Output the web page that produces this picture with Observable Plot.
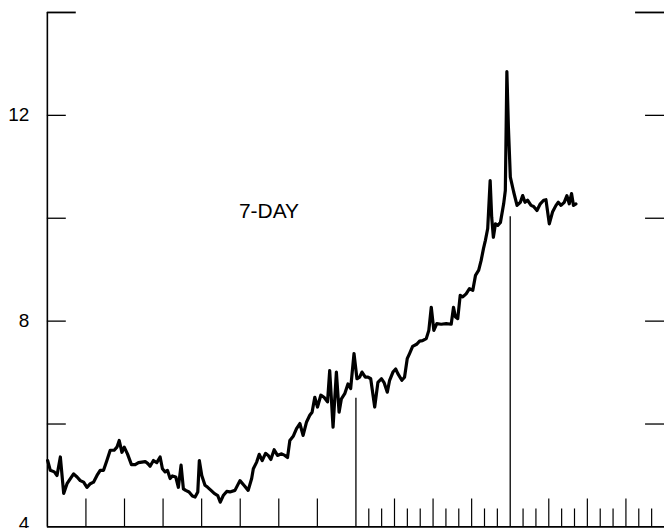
<!DOCTYPE html>
<html>
<head>
<meta charset="utf-8">
<script src="https://cdn.jsdelivr.net/npm/d3@7"></script>
<script src="https://cdn.jsdelivr.net/npm/@observablehq/plot@0.6"></script>
<style>
  html, body { margin: 0; padding: 0; background: #fff; overflow: hidden; }
</style>
</head>
<body>
<div id="chart"></div>
<script>
// Months since start of the series
const months = [0.02,0.23,0.54,0.75,1.01,1.27,1.53,1.79,2.04,2.31,2.56,2.82,3.08,3.34,3.59,3.86,4.11,4.37,4.63,4.89,
5.20,5.41,5.59,5.80,5.98,6.23,6.54,6.83,7.09,7.35,7.61,7.82,7.99,8.25,8.51,8.77,8.95,9.16,9.34,9.55,
9.72,9.99,10.19,10.40,10.58,10.76,11.02,11.28,11.49,11.70,11.82,12.01,12.26,12.47,12.73,12.98,13.25,13.45,13.68,13.95,
14.20,14.59,14.98,15.29,15.62,15.89,16.02,16.28,16.48,16.71,16.97,17.18,17.38,17.64,17.90,18.22,18.47,18.68,18.86,19.12,
19.38,19.64,19.89,20.16,20.41,20.59,20.80,21.01,21.27,21.52,21.79,21.96,22.22,22.48,22.69,22.87,23.13,23.38,23.59,23.85,
24.08,24.29,24.47,24.73,24.94,25.15,25.46,25.71,25.98,26.18,26.44,26.62,26.88,27.09,27.26,27.57,27.78,27.99,28.17,28.41,
28.72,28.95,29.18,29.47,29.67,29.86,30.06,30.29,30.63,31.02,31.41,31.59,31.74,31.92,32.11,32.31,32.57,32.83,33.09,33.30,
33.55,33.74,33.92,34.07,34.25,34.44,34.56,34.69,34.85,35.03,35.24,35.49,35.62,35.74,35.86,36.01,36.27,36.53,36.79,36.97,
37.15,37.35,37.62,37.82,38.08,38.34,38.60,38.78,39.04,39.29,39.56,39.74,39.95,40.20,40.41,40.59,40.77,40.92,41.11];

// 7-day yield (percent)
const yield7 = [5.29,5.10,5.07,5.00,5.36,4.65,4.84,4.94,5.03,4.97,4.90,4.87,4.77,4.84,4.87,5.00,5.10,5.10,5.29,5.49,
5.49,5.55,5.68,5.45,5.55,5.42,5.21,5.21,5.25,5.26,5.27,5.23,5.18,5.29,5.25,5.36,5.13,5.07,5.10,4.94,
4.99,4.97,4.77,5.20,4.74,4.71,4.68,4.60,4.58,4.68,5.29,5.00,4.81,4.77,4.71,4.65,4.61,4.48,4.61,4.69,
4.68,4.71,4.90,4.81,4.71,4.94,5.13,5.26,5.41,5.29,5.43,5.39,5.31,5.50,5.39,5.42,5.39,5.35,5.68,5.76,
5.91,6.01,5.78,6.04,6.17,6.23,6.52,6.33,6.56,6.52,6.43,7.04,5.94,7.01,6.23,6.49,6.59,6.78,6.69,7.37,
6.88,6.91,7.01,6.91,6.91,6.88,6.33,6.81,6.88,6.81,6.62,6.85,7.01,7.07,6.98,6.85,6.91,7.27,7.37,7.51,
7.55,7.61,7.62,7.66,7.82,8.27,7.82,7.95,7.94,7.95,7.94,8.27,8.08,8.05,8.50,8.47,8.53,8.63,8.60,8.89,
8.99,9.18,9.41,9.57,9.80,10.73,10.02,9.63,9.89,9.86,9.92,10.28,10.54,12.85,11.77,10.80,10.51,10.25,10.31,10.44,
10.31,10.35,10.25,10.23,10.15,10.28,10.35,10.36,9.89,10.12,10.25,10.31,10.25,10.31,10.44,10.28,10.48,10.25,10.28];

// Axis ticks
const yTicks = [6, 8, 10, 12];
const yTopTick = [14];
const yLabels = [8, 12];
const yBottomLabel = [4];
const quarterTicks = [3, 6, 9, 12, 15, 18, 21, 27, 30, 33, 39, 42, 45];
const monthTicks = [25, 26, 28, 29, 31, 32, 34, 35, 37, 38, 40, 41, 43, 44, 46, 47];
const markerMonths = [24, 36];
const markerTops = [6.5, 10.03];
const seriesLabel = "7-DAY";

const series = months.map((m, i) => ({m, v: yield7[i]}));
const markers = markerMonths.map((m, i) => ({m, top: markerTops[i]}));

const chart = Plot.plot({
  width: 666,
  height: 530,
  marginLeft: 47,
  marginRight: 0,
  marginTop: 12,
  marginBottom: 2,
  style: {fontFamily: "'Liberation Sans', Arial, sans-serif", fontSize: "19px", background: "white", color: "black"},
  x: {domain: [0, 48], axis: null},
  y: {domain: [4, 14], axis: null},
  marks: [
    // frame lines
    Plot.ruleX([0], {x: d => d, y1: 4, y2: 14, stroke: "black", strokeWidth: 1.6}),
    Plot.ruleY([4], {y: d => d, x1: 0, x2: 48, stroke: "black", strokeWidth: 1.6}),
    // left y ticks
    Plot.ruleY(yTicks, {y: d => d, x1: 0, x2: 0, insetRight: -19, stroke: "black", strokeWidth: 1.3}),
    Plot.ruleY(yTopTick, {y: d => d, x1: 0, x2: 0, insetRight: -29, stroke: "black", strokeWidth: 1.8}),
    // right y ticks
    Plot.ruleY(yTicks, {y: d => d, x1: 48, x2: 48, insetLeft: -19, stroke: "black", strokeWidth: 1.3}),
    Plot.ruleY(yTopTick, {y: d => d, x1: 48, x2: 48, insetLeft: -29, stroke: "black", strokeWidth: 1.8}),
    // y labels
    Plot.text(yLabels, {x: 0, y: d => d, text: d => String(d), textAnchor: "end", dx: -18, fill: "black", fontSize: 19}),
    Plot.text(yBottomLabel, {x: 0, y: d => d, text: d => String(d), textAnchor: "end", dx: -18, dy: -3, fill: "black", fontSize: 19}),
    // x ticks
    Plot.ruleX(quarterTicks, {x: d => d, y1: 4, y2: 4, insetTop: -28, stroke: "black", strokeWidth: 1.2}),
    Plot.ruleX(monthTicks, {x: d => d, y1: 4, y2: 4, insetTop: -18, stroke: "black", strokeWidth: 1.2}),
    Plot.ruleX(markers, {x: "m", y1: 4, y2: "top", stroke: "black", strokeWidth: 1.3}),
    // series
    Plot.line(series, {x: "m", y: "v", stroke: "black", strokeWidth: 3.2, strokeLinejoin: "round", curve: "linear"}),
    // label
    Plot.text([seriesLabel], {x: 14.9, y: 10.14, text: d => d, textAnchor: "start", fill: "black", fontSize: 21, style: "letter-spacing:0.8px"})
  ]
});
document.getElementById("chart").appendChild(chart);
</script>
</body>
</html>
